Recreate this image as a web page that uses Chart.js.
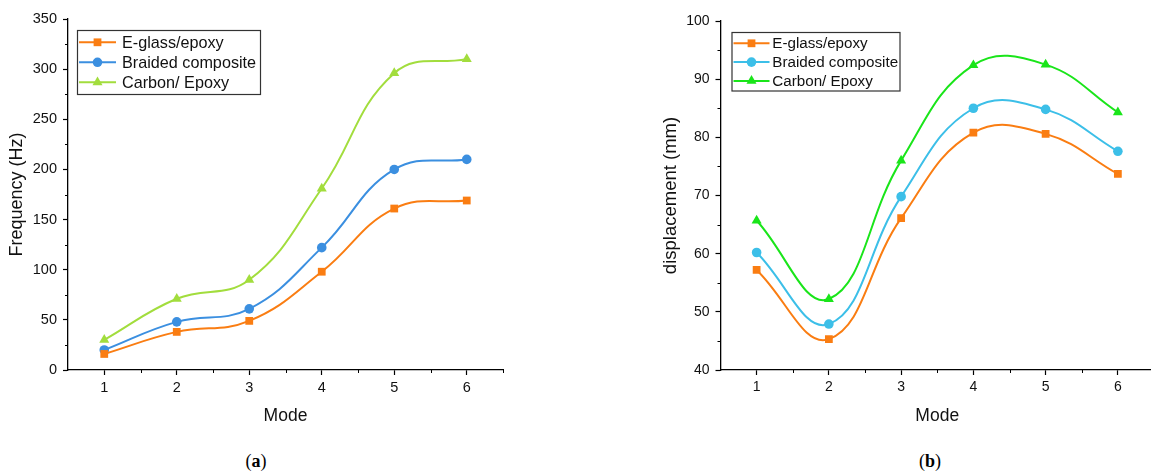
<!DOCTYPE html>
<html><head><meta charset="utf-8">
<script src="https://cdn.jsdelivr.net/npm/chart.js@4/dist/chart.umd.min.js"></script>
<style>
body{margin:0;background:#fff;width:1151px;height:475px;position:relative;overflow:hidden}
canvas{position:absolute;top:0}
#c1{left:0}
#c2{left:580px}
.cap{position:absolute;top:451px;font-family:'Liberation Serif','DejaVu Serif',serif;font-size:18px;color:#000;transform:translateX(-50%)}
</style></head><body>
<canvas id="c1" width="560" height="440"></canvas>
<canvas id="c2" width="580" height="440"></canvas>
<div class="cap" style="left:256px">(<b>a</b>)</div>
<div class="cap" style="left:930px">(<b>b</b>)</div>
<script>
const modes = [1, 2, 3, 4, 5, 6];
const seriesNames = ['E-glass/epoxy', 'Braided composite', 'Carbon/ Epoxy'];
const freqEglass  = [16, 38, 49, 98, 161, 169];
const freqBraided = [20, 48, 61, 122, 200, 210];
const freqCarbon  = [30, 71, 90, 181, 296, 310];
const dispEglass  = [57.2, 45.3, 66.1, 80.8, 80.6, 73.7];
const dispBraided = [60.2, 47.9, 69.8, 85.0, 84.8, 77.6];
const dispCarbon  = [65.7, 52.2, 76.0, 92.4, 92.5, 84.3];
const freqTicks = [0, 50, 100, 150, 200, 250, 300, 350];
const dispTicks = [40, 50, 60, 70, 80, 90, 100];
const freqMinor = [25, 75, 125, 175, 225, 275, 325];
const dispMinor = [45, 55, 65, 75, 85, 95];
const modeMinor = [1.5, 2.5, 3.5, 4.5, 5.5, 6.5];

const FONT = "'Liberation Sans', Arial, sans-serif";
const styles = ['rect', 'circle', 'triangle'];
const radii = [5.5, 4.8, 5.8];

function pts(arr){ return modes.map((m,i)=>({x:m, y:arr[i]})); }

function drawMarker(ctx, style, x, y, r, color){
  ctx.fillStyle = color;
  ctx.beginPath();
  if (style === 'rect'){ const s = r*Math.SQRT1_2; ctx.rect(x-s, y-s, 2*s, 2*s); }
  else if (style === 'circle'){ ctx.arc(x, y, r, 0, Math.PI*2); }
  else { ctx.moveTo(x, y-r); ctx.lineTo(x + r*Math.sin(Math.PI*2/3), y - r*Math.cos(Math.PI*2/3));
         ctx.lineTo(x - r*Math.sin(Math.PI*2/3), y - r*Math.cos(Math.PI*2/3)); ctx.closePath(); }
  ctx.fill();
}

const decor = {
  id: 'decor',
  afterDraw(chart, args, o){
    const ctx = chart.ctx, xs = chart.scales.x, ys = chart.scales.y, ca = chart.chartArea;
    ctx.save();
    ctx.strokeStyle = '#000'; ctx.lineWidth = 1;
    ctx.beginPath();
    o.xMinor.forEach(v=>{ const p = Math.round(xs.getPixelForValue(v))+0.5; ctx.moveTo(p, ca.bottom); ctx.lineTo(p, ca.bottom+3); });
    o.yMinor.forEach(v=>{ const p = Math.round(ys.getPixelForValue(v))+0.5; ctx.moveTo(ca.left, p); ctx.lineTo(ca.left-3, p); });
    ctx.stroke();
    // legend
    const L = o.legend;
    ctx.strokeStyle = '#333'; ctx.lineWidth = 1.2;
    ctx.strokeRect(L.x+0.5, L.y+0.5, L.w, L.h);
    ctx.font = L.size + 'px ' + FONT;
    ctx.textBaseline = 'middle';
    chart.data.datasets.forEach((ds, i)=>{
      const yy = L.y + L.first + i*L.gap;
      ctx.strokeStyle = ds.borderColor; ctx.lineWidth = 2;
      ctx.beginPath(); ctx.moveTo(L.x+2, yy); ctx.lineTo(L.x+2+L.line, yy); ctx.stroke();
      drawMarker(ctx, ds.pointStyle, L.x+2+L.line/2, yy, ds.pointRadius, ds.borderColor);
      ctx.fillStyle = '#111';
      ctx.fillText(ds.label, L.x + L.text, yy+1);
    });
    ctx.restore();
  }
};

function makeChart(id, series, colors, yTicks, yMin, yMax, yTitle, cfg){
  const datasets = series.map((s,i)=>({
    label: seriesNames[i], data: pts(s), borderColor: colors[i], backgroundColor: colors[i],
    pointBackgroundColor: colors[i], pointBorderColor: colors[i], pointBorderWidth: 0,
    pointStyle: styles[i], pointRadius: radii[i], borderWidth: 2, tension: 0.42, fill: false
  }));
  return new Chart(document.getElementById(id), {
    type: 'line',
    data: { datasets },
    options: {
      responsive: false, animation: false, devicePixelRatio: 1,
      layout: { padding: cfg.pad },
      plugins: { legend: {display:false}, tooltip: {enabled:false}, decor: cfg.decor },
      scales: {
        x: {
          type: 'linear', min: 0.5, max: 6.5,
          afterBuildTicks: s => { s.ticks = modes.map(v=>({value:v})); },
          afterFit: s => { s.height = 70; },
          border: { color: '#000', width: 1.3 },
          grid: { drawOnChartArea: false, drawTicks: true, tickLength: 5, color: '#000', tickWidth: 1.2 },
          ticks: { color: '#111', font: { family: FONT, size: cfg.tickSize }, padding: 4, maxRotation: 0 },
          title: { display: true, text: 'Mode', color: '#111', font: { family: FONT, size: 17.5 }, padding: { top: 0, bottom: 13 } }
        },
        y: {
          type: 'linear', min: yMin, max: yMax,
          afterBuildTicks: s => { s.ticks = yTicks.map(v=>({value:v})); },
          afterFit: s => { s.width = cfg.yWidth; },
          border: { color: '#000', width: 1.3 },
          grid: { drawOnChartArea: false, drawTicks: true, tickLength: 5, color: '#000', tickWidth: 1.2 },
          ticks: { color: '#111', font: { family: FONT, size: cfg.tickSize }, padding: 6 },
          title: { display: true, text: yTitle, color: '#111', font: { family: FONT, size: cfg.titleSize }, padding: { top: cfg.yTitlePad, bottom: 0 } }
        }
      }
    },
    plugins: [decor]
  });
}

makeChart('c1', [freqEglass, freqBraided, freqCarbon], ['#fa7d12', '#3b8fe0', '#a2dd3d'],
  freqTicks, 0, 350, 'Frequency (Hz)', {
    pad: { left: 0, top: 19, right: 57, bottom: 0 }, yWidth: 68, tickSize: 14.5, titleSize: 18, yTitlePad: 6.5,
    decor: { xMinor: modeMinor, yMinor: freqMinor,
      legend: { x: 77, y: 30, w: 183, h: 64, first: 12.3, gap: 20, line: 37, text: 45, size: 16.2 } }
  });

makeChart('c2', [dispEglass, dispBraided, dispCarbon], ['#fa7d12', '#3cbfe8', '#1ae51a'],
  dispTicks, 40, 100, 'displacement (mm)', {
    pad: { left: 0, top: 21, right: 6, bottom: 0 }, yWidth: 140.5, tickSize: 14, titleSize: 18.5, yTitlePad: 80,
    decor: { xMinor: modeMinor, yMinor: dispMinor,
      legend: { x: 151.5, y: 32, w: 168, h: 58.5, first: 11.3, gap: 18.8, line: 36, text: 40.8, size: 15.2 } }
  });
</script>
</body></html>
